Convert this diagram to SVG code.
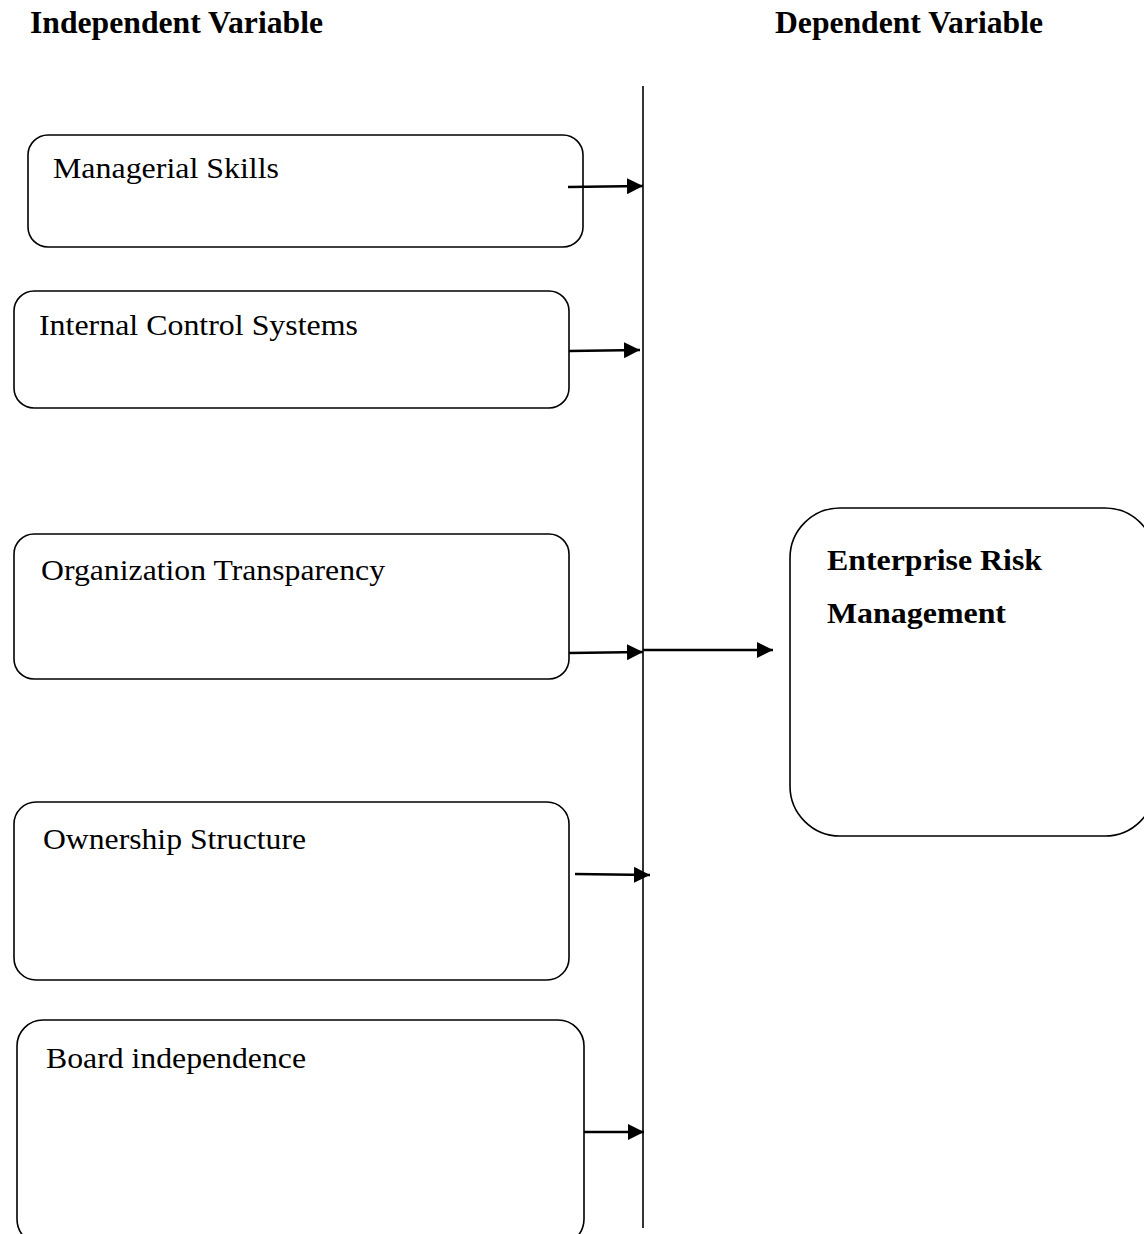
<svg xmlns="http://www.w3.org/2000/svg" width="1144" height="1234" viewBox="0 0 1144 1234">
<style>
.box{fill:#fff;stroke:#000;stroke-width:1.6}
.lbl{font-family:"Liberation Serif","Times New Roman",serif;font-size:29px;fill:#000}
.bold{font-family:"Liberation Serif","Times New Roman",serif;font-size:29px;font-weight:bold;fill:#000}
.hdr{font-family:"Liberation Serif","Times New Roman",serif;font-size:31px;font-weight:bold;fill:#000}
.conn{stroke:#000;stroke-width:2.6;fill:none}
.vline{stroke:#000;stroke-width:1.6;fill:none}
</style>
<defs>
<marker id="ah" markerUnits="userSpaceOnUse" markerWidth="18" markerHeight="16" refX="16" refY="8" orient="auto">
<path d="M0,0 L16,8 L0,16 Z" fill="#000"/>
</marker>
</defs>
<rect width="1144" height="1234" fill="#fff"/>
<text class="hdr" x="30" y="33" textLength="293" lengthAdjust="spacingAndGlyphs">Independent Variable</text>
<text class="hdr" x="775" y="33" textLength="268" lengthAdjust="spacingAndGlyphs">Dependent Variable</text>
<g id="n1"><rect class="box" x="28" y="135" width="555" height="112" rx="20"/><text class="lbl" x="53" y="178" textLength="226" lengthAdjust="spacingAndGlyphs">Managerial Skills</text></g>
<g id="n2"><rect class="box" x="14" y="291" width="555" height="117" rx="20"/><text class="lbl" x="39" y="335" textLength="319" lengthAdjust="spacingAndGlyphs">Internal Control Systems</text></g>
<g id="n3"><rect class="box" x="14" y="534" width="555" height="145" rx="20"/><text class="lbl" x="41" y="580" textLength="344" lengthAdjust="spacingAndGlyphs">Organization Transparency</text></g>
<g id="n4"><rect class="box" x="14" y="802" width="555" height="178" rx="22"/><text class="lbl" x="43" y="849" textLength="263" lengthAdjust="spacingAndGlyphs">Ownership Structure</text></g>
<g id="n5"><rect class="box" x="17" y="1020" width="567" height="225" rx="26"/><text class="lbl" x="46" y="1068" textLength="260" lengthAdjust="spacingAndGlyphs">Board independence</text></g>
<g id="n6"><rect class="box" x="790" y="508" width="365" height="328" rx="50"/><text class="bold" x="827" y="570" textLength="215" lengthAdjust="spacingAndGlyphs">Enterprise Risk</text><text class="bold" x="827" y="623" textLength="179" lengthAdjust="spacingAndGlyphs">Management</text></g>
<g id="connectors">
<line class="vline" x1="643" y1="86" x2="643" y2="1228"/>
<line class="conn" x1="568" y1="187" x2="643" y2="186" marker-end="url(#ah)"/>
<line class="conn" x1="569" y1="351" x2="640" y2="350" marker-end="url(#ah)"/>
<line class="conn" x1="569" y1="653" x2="643" y2="652" marker-end="url(#ah)"/>
<line class="conn" x1="643" y1="650" x2="773" y2="650" marker-end="url(#ah)"/>
<line class="conn" x1="575" y1="874" x2="650" y2="875" marker-end="url(#ah)"/>
<line class="conn" x1="584" y1="1132" x2="644" y2="1132" marker-end="url(#ah)"/>
</g>
</svg>
